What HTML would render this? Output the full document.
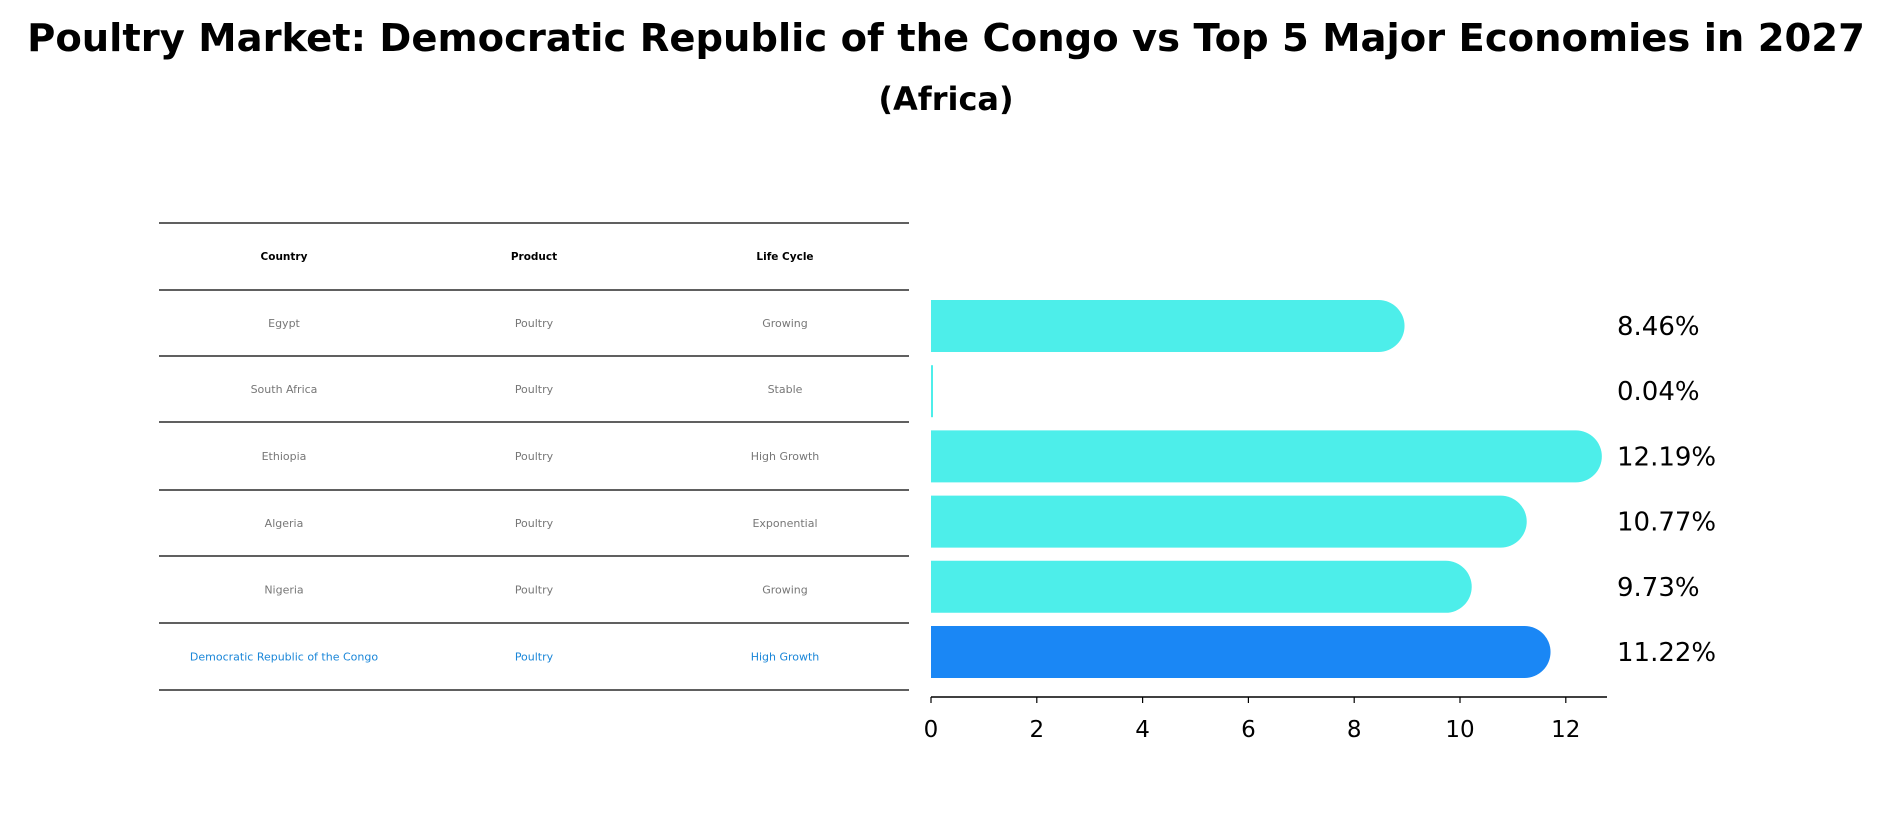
<!DOCTYPE html>
<html><head><meta charset="utf-8">
<style>
body{margin:0;background:#fff;font-family:"DejaVu Sans","Liberation Sans",sans-serif;}
svg text{font-family:"DejaVu Sans","Liberation Sans",sans-serif;}
</style></head>
<body>
<svg width="1893" height="823" viewBox="0 0 1893 823">
<rect width="1893" height="823" fill="#fff"/>
<text x="946" y="51" text-anchor="middle" font-size="38.5" font-weight="bold">Poultry Market: Democratic Republic of the Congo vs Top 5 Major Economies in 2027</text>
<text x="946" y="110" text-anchor="middle" font-size="32" font-weight="bold">(Africa)</text>
<g id="table"></g>
<g id="bars"></g>
</svg>
<script>
const countries=["Egypt","South Africa","Ethiopia","Algeria","Nigeria","Democratic Republic of the Congo"];
const products=["Poultry","Poultry","Poultry","Poultry","Poultry","Poultry"];
const lifeCycles=["Growing","Stable","High Growth","Exponential","Growing","High Growth"];
const values=[8.46,0.04,12.19,10.77,9.73,11.22];
const xTicks=[0,2,4,6,8,10,12];
const NS="http://www.w3.org/2000/svg";
function mk(tag,attrs,parent){const e=document.createElementNS(NS,tag);for(const k in attrs)e.setAttribute(k,attrs[k]);parent.appendChild(e);return e;}
const tbl=document.getElementById('table');
const lineY=[223,290,356,422,490,556,623,690];
const colX=[284,534,785];
lineY.forEach((y,i)=>{const l=mk('line',{x1:159,x2:909,y1:y,y2:y,stroke:'#000','stroke-width':1.2},tbl);

});
["Country","Product","Life Cycle"].forEach((h,j)=>{const t=mk('text',{x:colX[j],y:260,'text-anchor':'middle','font-size':10.5,'font-weight':'bold'},tbl);t.textContent=h;

});
countries.forEach((c,i)=>{const y=(lineY[i+1]+lineY[i+2])/2+4;const col=i===5?'#1a86d8':'#777';
[c,products[i],lifeCycles[i]].forEach((v,j)=>{const t=mk('text',{x:colX[j],y:y,'text-anchor':'middle','font-size':11,fill:col},tbl);t.textContent=v;

});});
const g=document.getElementById('bars');
const x0=931,unit=52.9;const xs=v=>x0+v*unit;
const rowY=i=>326+i*65.2;const bh=52;
values.forEach((v,i)=>{const cy=rowY(i);const col=i===5?'#1a87f5':'#4deeea';
const xe=xs(v);
const p=mk('path',{d:`M${x0},${cy-bh/2} L${xe},${cy-bh/2} A${bh/2},${bh/2} 0 0 1 ${xe},${cy+bh/2} L${x0},${cy+bh/2} Z`,fill:col},g);
if(v<0.5){p.setAttribute('d',`M${x0},${cy-bh/2} L${x0+2},${cy-bh/2} L${x0+2},${cy+bh/2} L${x0},${cy+bh/2} Z`);}


const t=mk('text',{x:1617,y:cy+9,'font-size':26},g);t.textContent=v.toFixed(2)+'%';

});
const ax=mk('line',{x1:x0,x2:1607,y1:697,y2:697,stroke:'#000','stroke-width':1.5},g);


xTicks.forEach(v=>{const tk=mk('line',{x1:xs(v),x2:xs(v),y1:697,y2:703,stroke:'#000','stroke-width':1.2},g);


const t=mk('text',{x:xs(v),y:737,'text-anchor':'middle','font-size':23},g);t.textContent=v;

});
</script>
</body></html>
